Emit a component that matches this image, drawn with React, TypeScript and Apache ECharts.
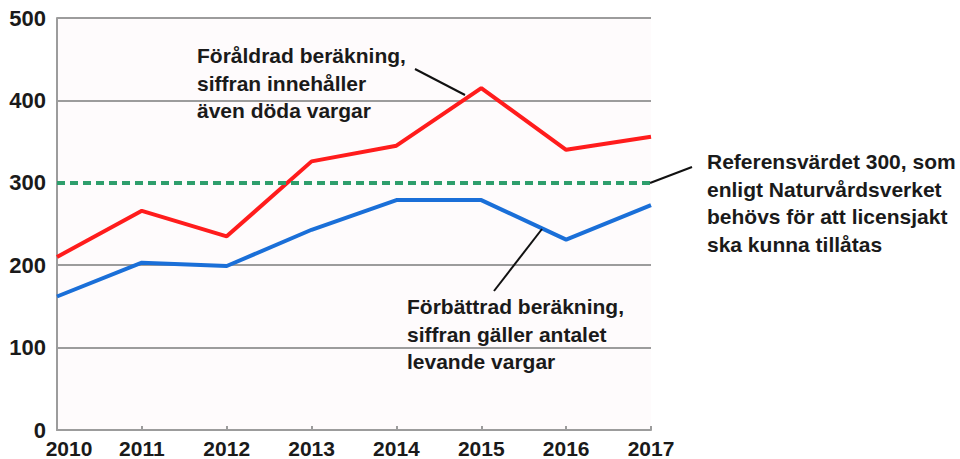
import React, { useEffect, useRef } from "react";
import * as echarts from "echarts";

const YEARS = ["2010", "2011", "2012", "2013", "2014", "2015", "2016", "2017"];
const OLD_ESTIMATE = [210, 266, 235, 326, 345, 415, 340, 356];
const NEW_ESTIMATE = [162, 203, 199, 243, 279, 279, 231, 273];
const REFERENCE_VALUE = 300;
const Y_TICKS = [0, 100, 200, 300, 400, 500];

const NOTE_OLD = "Föråldrad beräkning,\nsiffran innehåller\näven döda vargar";
const NOTE_REF = "Referensvärdet 300, som\nenligt Naturvårdsverket\nbehövs för att licensjakt\nska kunna tillåtas";
const NOTE_NEW = "Förbättrad beräkning,\nsiffran gäller antalet\nlevande vargar";

const FONT = "'Liberation Sans', Arial, Helvetica, sans-serif";
const TEXT_COLOR = "#1a1a1a";
const GRID_COLOR = "#9c9c9c";

export default function App() {
  const ref = useRef<HTMLDivElement>(null);

  useEffect(() => {
    if (!ref.current) return;
    const chart = echarts.init(ref.current, null, { renderer: "svg" });

    const note = (text: string, x: number, y: number) => ({
      type: "text",
      x,
      y,
      style: {
        text,
        fontFamily: FONT,
        fontSize: 21,
        fontWeight: "bold",
        fill: TEXT_COLOR,
        lineHeight: 27.5,
        verticalAlign: "top",
        align: "left",
      },
      z: 100,
    });
    const connector = (x1: number, y1: number, x2: number, y2: number) => ({
      type: "line",
      shape: { x1, y1, x2, y2 },
      style: { stroke: "#111111", lineWidth: 2 },
      z: 100,
    });

    const splitColors = Y_TICKS.map((t) => (t === REFERENCE_VALUE ? "rgba(0,0,0,0)" : GRID_COLOR));

    chart.setOption({
      animation: false,
      backgroundColor: "#ffffff",
      grid: {
        left: 57,
        right: 309,
        top: 18,
        bottom: 27,
        show: true,
        backgroundColor: "#fefbfc",
        borderWidth: 0,
      },
      xAxis: {
        type: "category",
        data: YEARS,
        boundaryGap: false,
        axisLine: { show: true, lineStyle: { color: GRID_COLOR, width: 2 } },
        axisTick: { show: true, inside: true, length: 4, interval: 0, lineStyle: { color: GRID_COLOR, width: 2 } },
        splitLine: { show: false },
        axisLabel: {
          interval: 0,
          margin: 8,
          fontFamily: FONT,
          fontSize: 21,
          fontWeight: "bold",
          color: TEXT_COLOR,
          formatter: (v: string, i: number) => (i === 0 ? `{first|${v}}` : v),
          rich: {
            first: {
              padding: [0, 0, 0, 24],
              fontFamily: FONT,
              fontSize: 21,
              fontWeight: "bold",
              color: TEXT_COLOR,
            },
          },
        },
      },
      yAxis: {
        type: "value",
        min: Y_TICKS[0],
        max: Y_TICKS[Y_TICKS.length - 1],
        interval: Y_TICKS[1] - Y_TICKS[0],
        axisLine: { show: true, lineStyle: { color: GRID_COLOR, width: 2 } },
        axisTick: { show: false },
        splitLine: { show: true, lineStyle: { color: splitColors, width: 2 } },
        axisLabel: {
          margin: 11,
          fontFamily: FONT,
          fontSize: 22,
          fontWeight: "bold",
          color: TEXT_COLOR,
          padding: [5, 0, 0, 0],
        },
      },
      series: [
        {
          type: "line",
          data: NEW_ESTIMATE,
          symbol: "none",
          lineStyle: { color: "#1a6fd8", width: 4 },
          z: 3,
        },
        {
          type: "line",
          data: OLD_ESTIMATE,
          symbol: "none",
          lineStyle: { color: "#ff1c1c", width: 4 },
          z: 4,
          markLine: {
            silent: true,
            symbol: ["none", "none"],
            label: { show: false },
            lineStyle: { color: "#2e9e6c", type: [8, 5], width: 4 },
            data: [{ yAxis: REFERENCE_VALUE }],
          },
        },
      ],
      graphic: [
        note(NOTE_OLD, 197, 42),
        note(NOTE_REF, 707, 148),
        note(NOTE_NEW, 407, 293),
        connector(415, 69, 465, 95),
        connector(650, 183, 692, 167),
        connector(494, 291, 542, 229),
      ],
    });

    return () => chart.dispose();
  }, []);

  return (
    <div
      ref={ref}
      style={{ position: "fixed", left: 0, top: 0, width: 960, height: 459 }}
    />
  );
}
